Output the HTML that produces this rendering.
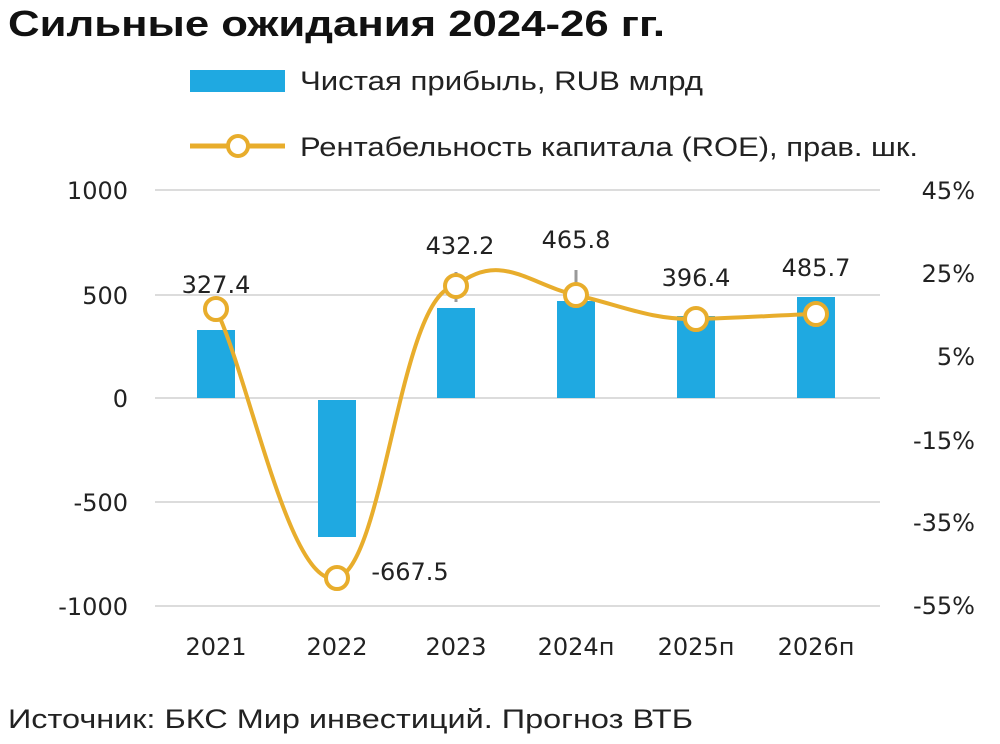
<!DOCTYPE html>
<html><head><meta charset="utf-8"><style>
body{margin:0;background:#fff;}
svg{display:block;font-family:"DejaVu Sans","Liberation Sans",sans-serif;}
</style></head><body>
<svg width="1000" height="744" viewBox="0 0 1000 744">
<rect width="1000" height="744" fill="#fff"/>
<text x="8" y="36" font-size="36" font-weight="bold" fill="#111" font-family="Liberation Sans, sans-serif" textLength="657" lengthAdjust="spacingAndGlyphs">Сильные ожидания 2024-26 гг.</text>
<rect x="190" y="70" width="95" height="22" fill="#1fa9e1"/>
<text x="300" y="90" font-size="27" fill="#222" font-family="Liberation Sans, sans-serif" textLength="403" lengthAdjust="spacingAndGlyphs">Чистая прибыль, RUB млрд</text>
<line x1="190" y1="146" x2="285" y2="146" stroke="#e8ad2c" stroke-width="5"/>
<circle cx="238" cy="146" r="10" fill="#fff" stroke="#e8ad2c" stroke-width="4"/>
<text x="300" y="156" font-size="27" fill="#222" font-family="Liberation Sans, sans-serif" textLength="618" lengthAdjust="spacingAndGlyphs">Рентабельность капитала (ROE), прав. шк.</text>
<g stroke="#d0d0d0" stroke-width="1.5">
<line x1="155" y1="190" x2="880" y2="190"/>
<line x1="155" y1="295" x2="880" y2="295"/>
<line x1="155" y1="398" x2="880" y2="398"/>
<line x1="155" y1="502" x2="880" y2="502"/>
<line x1="155" y1="606" x2="880" y2="606"/>
</g>
<g font-size="24" fill="#222" text-anchor="end">
<text x="128" y="199">1000</text>
<text x="128" y="304">500</text>
<text x="128" y="407">0</text>
<text x="128" y="511">-500</text>
<text x="128" y="615">-1000</text>
</g>
<g font-size="24" fill="#222" text-anchor="end">
<text x="975" y="199">45%</text>
<text x="975" y="282">25%</text>
<text x="975" y="365">5%</text>
<text x="975" y="449">-15%</text>
<text x="975" y="531">-35%</text>
<text x="975" y="614">-55%</text>
</g>
<g fill="#1fa9e1">
<rect x="197" y="330" width="38" height="68"/>
<rect x="318" y="400" width="38" height="137"/>
<rect x="437" y="308" width="38" height="90"/>
<rect x="557" y="301" width="38" height="97"/>
<rect x="677" y="316" width="38" height="82"/>
<rect x="797" y="297" width="38" height="101"/>
</g>
<g stroke="#999" stroke-width="3">
<line x1="456" y1="272" x2="456" y2="302"/>
<line x1="576" y1="270" x2="576" y2="300"/>
</g>
<path d="M216,309 C250,380 290,590 337,578 C385,565 400,290 456,286 C500,250 530,285 576,295 C620,305 650,320 696,319 C740,318 780,315 816,314" fill="none" stroke="#e8ad2c" stroke-width="4"/>
<g fill="#fff" stroke="#e8ad2c" stroke-width="4">
<circle cx="216" cy="309" r="11"/>
<circle cx="337" cy="578" r="11"/>
<circle cx="456" cy="286" r="11"/>
<circle cx="576" cy="295" r="11"/>
<circle cx="696" cy="319" r="11"/>
<circle cx="816" cy="314" r="11"/>
</g>
<g font-size="24" fill="#222" text-anchor="middle">
<text x="216" y="293">327.4</text>
<text x="410" y="580">-667.5</text>
<text x="460" y="254">432.2</text>
<text x="576" y="248">465.8</text>
<text x="696" y="286">396.4</text>
<text x="816" y="276">485.7</text>
</g>
<g font-size="24" fill="#222" text-anchor="middle">
<text x="216" y="655">2021</text>
<text x="337" y="655">2022</text>
<text x="456" y="655">2023</text>
<text x="576" y="655">2024п</text>
<text x="696" y="655">2025п</text>
<text x="816" y="655">2026п</text>
</g>
<text x="8" y="728" font-size="27" fill="#222" font-family="Liberation Sans, sans-serif" textLength="685" lengthAdjust="spacingAndGlyphs">Источник: БКС Мир инвестиций. Прогноз ВТБ</text>
</svg>
</body></html>
